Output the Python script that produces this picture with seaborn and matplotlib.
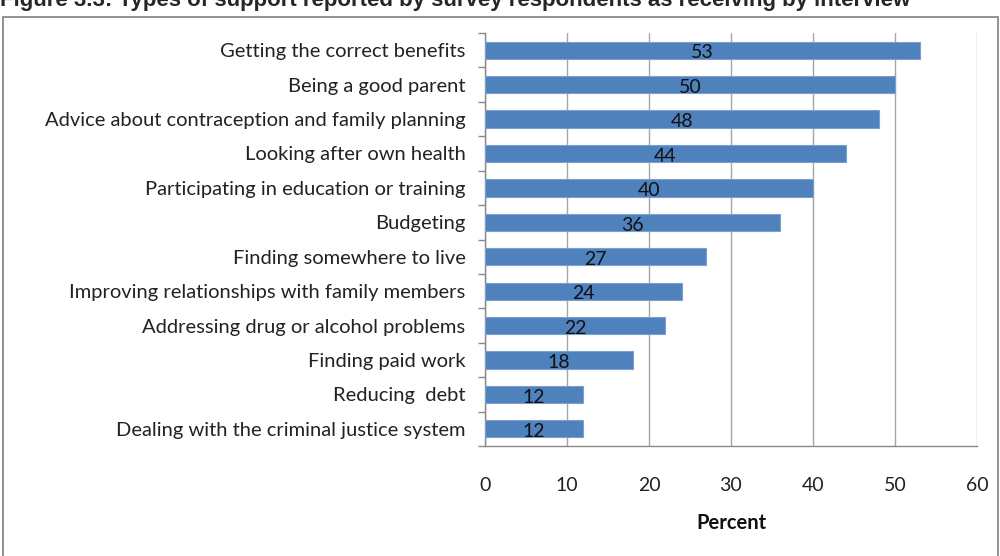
import matplotlib
matplotlib.use("Agg")
import matplotlib.pyplot as plt
import seaborn as sns
import pandas as pd
from matplotlib.patches import Rectangle

categories = [
    "Getting the correct benefits",
    "Being a good parent",
    "Advice about contraception and family planning",
    "Looking after own health",
    "Participating in education or training",
    "Budgeting",
    "Finding somewhere to live",
    "Improving relationships with family members",
    "Addressing drug or alcohol problems",
    "Finding paid work",
    "Reducing  debt",
    "Dealing with the criminal justice system",
]
values = [53, 50, 48, 44, 40, 36, 27, 24, 22, 18, 12, 12]
xticks = [0, 10, 20, 30, 40, 50, 60]
title = "Figure 3.3: Types of support reported by survey respondents as receiving by interview"

sns.set_theme(style="white")
plt.rcParams["font.family"] = ["Lato", "DejaVu Sans"]

df = pd.DataFrame({"cat": categories, "val": values})

fig = plt.figure(figsize=(10, 5.56), dpi=100)
ax = fig.add_axes([0.485, 0.1978, 0.492, 0.7428])

sns.barplot(data=df, y="cat", x="val", orient="h", color="#4F81BD",
            saturation=1, width=0.5, ax=ax, zorder=3,
            edgecolor="#7BA0CD", linewidth=0.8)

ax.set_xlim(0, 60)
ax.set_ylim(len(categories) - 0.5, -0.5)
ax.set_xticks(xticks)
ax.set_xticklabels([str(t) for t in xticks], fontsize=14, color="#222222")
ax.tick_params(axis="x", length=6, width=1, color="#888888", pad=16)
ax.tick_params(axis="y", length=0, pad=14, labelsize=14.5, labelcolor="#222222")
ax.set_yticks([i - 0.5 for i in range(len(categories) + 1)], minor=True)
ax.tick_params(axis="y", which="minor", length=5, width=1, color="#888888", left=True)
ax.xaxis.grid(True, color="#A6A6A6", linewidth=1, zorder=0)
ax.set_axisbelow(True)
ax.set_ylabel("")
ax.set_xlabel("Percent", fontsize=14.5, fontweight="bold", labelpad=14, color="#111111")
for s in ["top", "right"]:
    ax.spines[s].set_visible(False)
for s in ["left", "bottom"]:
    ax.spines[s].set_color("#888888")
    ax.spines[s].set_linewidth(1)

for i, v in enumerate(values):
    ax.text(v / 2, i + 0.08, str(v), ha="center", va="center",
            fontsize=14, color="#111111", zorder=4)

fig.add_artist(Rectangle((0.003, -0.01), 0.995, 0.98,
                         transform=fig.transFigure, fill=False,
                         edgecolor="#7F7F7F", linewidth=1.2))
fig.text(0.0, 1 - 6 / 556, title, ha="left", va="baseline",
         fontsize=16, fontweight="bold", family="Liberation Sans")

fig.savefig("out.png", dpi=100)
